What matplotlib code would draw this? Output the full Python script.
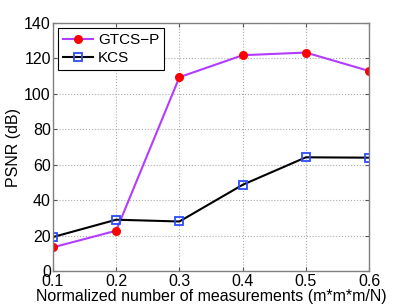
import matplotlib
matplotlib.use("Agg")
import matplotlib.pyplot as plt

plt.rcParams['font.family'] = ['Liberation Sans', 'DejaVu Sans']

ratios = [0.1, 0.2, 0.3, 0.4, 0.5, 0.6]
gtcs_p = [13.4, 22.8, 109.4, 121.8, 123.3, 112.9]
kcs = [19.2, 29.0, 28.0, 48.7, 64.2, 64.0]

fig = plt.figure(figsize=(4.07, 3.06), dpi=100)
ax = fig.add_axes([0.130, 0.114, 0.777, 0.811])

ax.plot(ratios, gtcs_p, color='#B23CFF', linewidth=1.5, marker='o',
        markersize=5.5, markerfacecolor='red', markeredgecolor='red', label='GTCS\u2212P')
ax.plot(ratios, kcs, color='black', linewidth=1.5, marker='s',
        markersize=6, markerfacecolor='none', markeredgecolor='#2B4BFF',
        markeredgewidth=1.3, label='KCS')

ax.set_xlim(0.1, 0.6)
ax.set_ylim(0, 140)
ax.set_xticks(ratios)
ax.set_yticks(range(0, 141, 20))
ax.grid(True, linestyle=':', color='#aaaaaa', linewidth=0.8)
ax.tick_params(direction='in', top=True, right=True, labelsize=11.5, length=3,
               color='#555555', pad=2)
ax.tick_params(axis='y', pad=1.5)
for s in ax.spines.values():
    s.set_color('#808080')
    s.set_linewidth(1.0)

ax.set_xlabel('Normalized number of measurements (m*m*m/N)', fontsize=11.5, labelpad=0)
ax.set_ylabel('PSNR (dB)', fontsize=11.5, labelpad=2)

leg = ax.legend(loc='upper left', fontsize=11, fancybox=False, framealpha=1,
                edgecolor='black', borderaxespad=0.35, handlelength=2.0,
                borderpad=0.3, labelspacing=0.3, handletextpad=0.3)
leg.get_frame().set_linewidth(0.8)

fig.savefig('out.png', dpi=100)
